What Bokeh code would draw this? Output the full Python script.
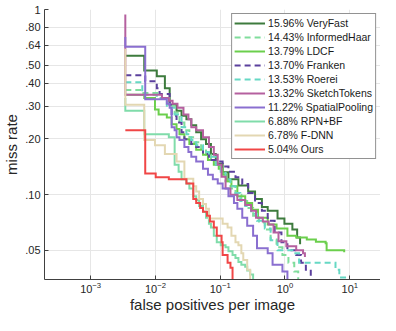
from bokeh.plotting import figure
from bokeh.models import FixedTicker, Legend, LegendItem, Range1d
from bokeh.embed import file_html
from bokeh.resources import INLINE

# ---- data (fppi, miss rate) ----
names = ["15.96% VeryFast", "14.43% InformedHaar", "13.79% LDCF", "13.70% Franken",
         "13.53% Roerei", "13.32% SketchTokens", "11.22% SpatialPooling",
         "6.88% RPN+BF", "6.78% F-DNN", "5.04% Ours"]

fppi_veryfast = [3.43e-3, 6.72e-3, 1.05e-2, 1.40e-2, 1.66e-2, 2.12e-2, 2.53e-2, 3.01e-2, 3.58e-2, 4.26e-2,
                 5.07e-2, 6.04e-2, 7.19e-2, 8.55e-2, 0.109, 0.134, 0.191, 0.270, 0.345, 0.440, 0.541,
                 0.767, 0.98, 1.30, 1.54, 1.71]
mr_veryfast = [0.563, 0.469, 0.436, 0.376, 0.306, 0.284, 0.267, 0.255, 0.237, 0.217, 0.199, 0.188, 0.166,
               0.147, 0.132, 0.121, 0.112, 0.104, 0.0947, 0.0858, 0.0818, 0.0742, 0.0697, 0.0648, 0.0586, 0.054]

fppi_informedhaar = [3.43e-3, 6.27e-3, 1.26e-2, 1.61e-2, 1.98e-2, 2.35e-2, 2.80e-2, 3.34e-2, 3.98e-2, 5.07e-2,
                     6.04e-2, 7.19e-2, 8.55e-2, 0.102, 0.121, 0.144, 0.172, 0.212, 0.261, 0.322, 0.396,
                     0.488, 0.600, 0.741, 0.913, 1.13, 1.39, 1.60]
mr_informedhaar = [0.367, 0.354, 0.333, 0.302, 0.277, 0.245, 0.223, 0.204, 0.192, 0.177, 0.164, 0.154, 0.142,
                   0.130, 0.118, 0.108, 0.100, 0.0924, 0.0848, 0.0769, 0.0706, 0.0648, 0.0572, 0.052, 0.0472,
                   0.0428, 0.0384, 0.0335]

fppi_ldcf = [3.43e-3, 6.72e-3, 9.84e-3, 1.12e-2, 1.50e-2, 1.78e-2, 2.12e-2, 2.35e-2, 2.80e-2, 3.34e-2, 4.26e-2,
             5.43e-2, 6.47e-2, 7.97e-2, 9.49e-2, 0.109, 0.125, 0.149, 0.184, 0.243, 0.311, 0.383, 0.541, 0.741,
             1.09, 1.49, 2.17, 3.0, 4.24, 4.39, 8.2]
mr_ldcf = [0.346, 0.333, 0.288, 0.271, 0.261, 0.240, 0.226, 0.212, 0.199, 0.188, 0.175, 0.164, 0.154, 0.145,
           0.138, 0.128, 0.118, 0.111, 0.098, 0.0902, 0.0828, 0.0751, 0.0689, 0.0656, 0.060, 0.0586, 0.0572,
           0.0557, 0.0546, 0.0501, 0.0489]

fppi_franken = [3.43e-3, 6.96e-3, 1.05e-2, 1.16e-2, 1.66e-2, 1.78e-2, 2.12e-2, 2.53e-2, 2.80e-2, 3.58e-2,
                4.26e-2, 5.43e-2, 6.70e-2, 8.55e-2, 0.109, 0.134, 0.172, 0.219, 0.270, 0.345, 0.440, 0.541,
                0.692, 0.882, 1.09, 1.49, 1.77, 2.10, 2.50]
mr_franken = [0.441, 0.410, 0.376, 0.350, 0.306, 0.267, 0.245, 0.217, 0.199, 0.188, 0.181, 0.166, 0.154, 0.151,
              0.142, 0.133, 0.124, 0.114, 0.102, 0.0902, 0.0818, 0.0723, 0.0625, 0.0553, 0.0501, 0.0472,
              0.0428, 0.0393, 0.0348]

fppi_roerei = [3.43e-3, 6.27e-3, 1.05e-2, 1.50e-2, 1.98e-2, 2.53e-2, 3.01e-2, 3.58e-2, 4.26e-2, 5.43e-2,
               6.70e-2, 8.55e-2, 0.102, 0.121, 0.144, 0.172, 0.204, 0.243, 0.300, 0.370, 0.488, 0.600, 0.767,
               1.30, 1.65, 6.02, 6.9, 9.42]
mr_roerei = [0.405, 0.346, 0.333, 0.295, 0.271, 0.231, 0.212, 0.197, 0.185, 0.170, 0.160, 0.145, 0.133, 0.121,
             0.111, 0.102, 0.0924, 0.0869, 0.0788, 0.0723, 0.0656, 0.0567, 0.0501, 0.0483, 0.0428, 0.0393,
             0.0357, 0.0348]

fppi_sketch = [3.43e-3, 3.43e-3, 1.26e-2, 1.61e-2, 1.84e-2, 2.19e-2, 2.71e-2, 3.23e-2, 3.58e-2, 4.26e-2,
               5.43e-2, 6.70e-2, 7.97e-2, 9.16e-2, 0.105, 0.121, 0.144, 0.184, 0.243, 0.300, 0.357, 0.455,
               0.560, 0.666, 0.794, 1.05, 1.49, 1.90, 2.03]
mr_sketch = [0.941, 0.346, 0.333, 0.321, 0.310, 0.295, 0.271, 0.255, 0.231, 0.223, 0.204, 0.181, 0.164, 0.145,
             0.125, 0.108, 0.100, 0.0935, 0.088, 0.0818, 0.0751, 0.0715, 0.0689, 0.0625, 0.056, 0.0527,
             0.0501, 0.0483, 0.046]

fppi_spatial = [3.43e-3, 3.43e-3, 6.96e-3, 1.50e-2, 1.66e-2, 1.78e-2, 1.98e-2, 2.12e-2, 2.35e-2, 2.80e-2,
                3.23e-2, 3.58e-2, 4.26e-2, 5.43e-2, 6.47e-2, 7.70e-2, 9.16e-2, 0.109, 0.134, 0.163, 0.184,
                0.219, 0.261, 0.322, 0.370, 0.541, 0.643, 0.913, 1.09]
mr_spatial = [0.710, 0.629, 0.327, 0.310, 0.295, 0.231, 0.223, 0.204, 0.197, 0.181, 0.170, 0.160, 0.151, 0.138,
              0.128, 0.121, 0.115, 0.108, 0.098, 0.0902, 0.0838, 0.0751, 0.068, 0.060, 0.0514, 0.0483,
              0.0418, 0.0384, 0.0335]

fppi_rpn = [3.43e-3, 3.43e-3, 6.72e-3, 1.61e-2, 1.98e-2, 2.28e-2, 2.53e-2, 3.01e-2, 3.34e-2, 3.84e-2, 4.26e-2,
            4.73e-2, 5.43e-2, 6.04e-2, 6.70e-2, 7.19e-2, 7.97e-2, 8.85e-2, 0.102, 0.121, 0.134, 0.155, 0.172,
            0.191, 0.212, 0.243, 0.261, 0.290, 0.322]
mr_rpn = [0.333, 0.284, 0.212, 0.204, 0.145, 0.133, 0.121, 0.115, 0.108, 0.098, 0.0935, 0.0869, 0.0808, 0.0751,
          0.0697, 0.0664, 0.060, 0.0553, 0.0533, 0.052, 0.0495, 0.0472, 0.0455, 0.0433, 0.0418, 0.0408,
          0.0389, 0.037, 0.0335]

fppi_fdnn = [3.43e-3, 3.43e-3, 6.72e-3, 9.84e-3, 1.40e-2, 2.12e-2, 2.80e-2, 3.84e-2, 4.26e-2, 4.73e-2, 5.43e-2,
             6.04e-2, 6.70e-2, 0.109, 0.130, 0.149, 0.172, 0.191, 0.212, 0.227, 0.261, 0.290]
mr_fdnn = [0.613, 0.306, 0.197, 0.185, 0.166, 0.151, 0.122, 0.111, 0.104, 0.0947, 0.0891, 0.0838, 0.0742,
           0.0697, 0.0664, 0.060, 0.0553, 0.0533, 0.0483, 0.0444, 0.0393, 0.0335]

fppi_ours = [3.43e-3, 6.96e-3, 1.01e-2, 1.61e-2, 3.01e-2, 3.84e-2, 4.26e-2, 4.90e-2, 5.43e-2, 6.25e-2, 6.94e-2,
             7.97e-2, 8.85e-2, 0.105, 0.109, 0.130, 0.144, 0.155]
mr_ours = [0.223, 0.130, 0.124, 0.121, 0.115, 0.0947, 0.0902, 0.0848, 0.0808, 0.0769, 0.0715, 0.0664, 0.060,
           0.0553, 0.0472, 0.0428, 0.0403, 0.0335]

x_ticks = [1e-3, 1e-2, 1e-1, 1, 10]
y_ticks = [0.05, 0.1, 0.2, 0.3, 0.4, 0.5, 0.64, 0.8, 1.0]
y_tick_labels = [".05", ".10", ".20", ".30", ".40", ".50", ".64", ".80", "1"]
x_title = "false positives per image"
y_title = "miss rate"

series = [
    (fppi_veryfast, mr_veryfast, "#3d7b3d", "solid"),
    (fppi_informedhaar, mr_informedhaar, "#80dd9c", "6 4"),
    (fppi_ldcf, mr_ldcf, "#6bcf4c", "solid"),
    (fppi_franken, mr_franken, "#5b409d", "6 4"),
    (fppi_roerei, mr_roerei, "#66d8c4", "6 4"),
    (fppi_sketch, mr_sketch, "#b5609f", "solid"),
    (fppi_spatial, mr_spatial, "#8a6fd0", "solid"),
    (fppi_rpn, mr_rpn, "#80dcaa", "solid"),
    (fppi_fdnn, mr_fdnn, "#e3d7b2", "solid"),
    (fppi_ours, mr_ours, "#f04646", "solid"),
]

FONT = "Liberation Sans"

p = figure(width=380, height=315, x_axis_type="log", y_axis_type="log",
           x_range=Range1d(1.94e-4, 29.8), y_range=Range1d(0.0348, 1.0),
           output_backend="svg", toolbar_location=None,
           min_border_left=37, min_border_right=0, min_border_top=9, min_border_bottom=30)
p.outline_line_color = None

xt = FixedTicker(ticks=x_ticks)
yt = FixedTicker(ticks=y_ticks)
p.xaxis.ticker = xt
p.yaxis.ticker = yt
p.xgrid.ticker = xt
p.ygrid.ticker = yt
p.yaxis.major_label_overrides = {t: l for t, l in zip(y_ticks, y_tick_labels)}

for ax in (p.xaxis, p.yaxis):
    ax.axis_line_color = "#404040"
    ax.major_tick_line_color = "#404040"
    ax.major_tick_in = 4
    ax.major_tick_out = 0
    ax.minor_tick_line_color = None
    ax.major_label_text_font = FONT
    ax.major_label_text_font_size = "11px"
    ax.major_label_text_color = "#262626"
    ax.axis_label_text_font = FONT
    ax.axis_label_text_font_size = "15px"
    ax.axis_label_text_font_style = "normal"
    ax.axis_label_text_color = "#262626"

p.xaxis.axis_label = x_title
p.yaxis.axis_label = y_title
p.yaxis.major_label_standoff = 4
p.yaxis.axis_label_standoff = 2
p.xaxis.major_label_standoff = 2
p.xaxis.axis_label_standoff = 0

for g in (p.xgrid, p.ygrid):
    g.grid_line_color = "#e6e6e6"
    g.grid_line_width = 1

items = []
for (xs, ys, col, dash), name in zip(series, names):
    r = p.step(xs, ys, mode="after", line_color=col, line_width=2, line_dash=dash, line_join="miter")
    items.append(LegendItem(label=name, renderers=[r]))

legend = Legend(items=items, location="top_right", margin=4,
                label_text_font=FONT, label_text_font_size="10.5px", label_text_color="#1a1a1a",
                glyph_width=31, glyph_height=14, label_height=14, label_standoff=3,
                spacing=0, padding=2,
                border_line_color="#262626", border_line_width=1,
                background_fill_color="white", background_fill_alpha=1.0)
p.add_layout(legend)

open("out.html", "w").write(file_html(p, INLINE))
